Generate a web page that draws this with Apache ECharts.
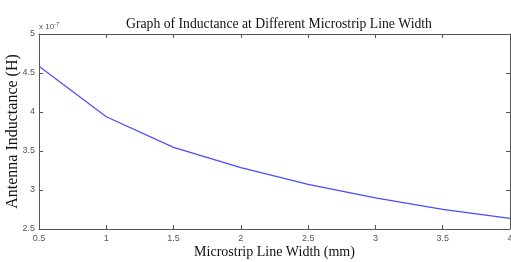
<!DOCTYPE html>
<html><head><meta charset="utf-8">
<script src="https://cdn.jsdelivr.net/npm/echarts@6/dist/echarts.min.js"></script>
<style>html,body{margin:0;padding:0;background:#fff}#c{width:511px;height:262px}</style>
</head><body><div id="c"></div>
<script>
var widths = [0.5, 1, 1.5, 2, 2.5, 3, 3.5, 4];
var inductance = [4.586, 3.94, 3.547, 3.286, 3.073, 2.90, 2.752, 2.637]; // x 1e-7 H
var xTicks = [0.5, 1, 1.5, 2, 2.5, 3, 3.5, 4];
var yTicks = [2.5, 3, 3.5, 4, 4.5, 5];
var data = widths.map(function (w, i) { return [w, inductance[i]]; });
var chart = echarts.init(document.getElementById('c'));
var axisCommon = {
  axisLine: { show: true, lineStyle: { color: '#555', width: 1 } },
  axisTick: { show: true, inside: true, length: 4, lineStyle: { color: '#555' } },
  splitLine: { show: false }
};
var lblFont = { color: '#555', fontSize: 9, fontFamily: 'Liberation Sans, Arial' };
chart.setOption({
  animation: false,
  title: {
    text: 'Graph of Inductance at Different Microstrip Line Width',
    left: 274, top: 12, textAlign: 'center',
    textStyle: { fontFamily: 'Liberation Serif, Times New Roman', fontWeight: 'normal', fontSize: 13.7, color: '#111' }
  },
  graphic: [{
    type: 'text', left: 39, top: 21,
    style: {
      text: '{a|x 10}{b|-7}',
      rich: {
        a: { fontSize: 8, fontFamily: 'Liberation Sans', fill: '#555' },
        b: { fontSize: 6, fontFamily: 'Liberation Sans', fill: '#555', verticalAlign: 'top', padding: [0, 0, 5, 0] }
      }
    }
  }],
  grid: { left: 39, right: 1, top: 34, bottom: 33, containLabel: false, outerBoundsMode: 'none' },
  xAxis: [Object.assign({
    type: 'value', min: 0.5, max: 4, interval: 0.5,
    name: 'Microstrip Line Width (mm)', nameLocation: 'middle', nameGap: 16, nameMoveOverlap: false,
    nameTextStyle: { fontFamily: 'Liberation Serif, Times New Roman', fontSize: 14, color: '#111' },
    axisLabel: Object.assign({ margin: 5, formatter: function (v) { return String(v); } }, lblFont)
  }, axisCommon), Object.assign({
    type: 'value', min: 0.5, max: 4, interval: 0.5, position: 'top',
    axisLabel: { show: false }
  }, axisCommon)],
  yAxis: [Object.assign({
    type: 'value', min: 2.5, max: 5, interval: 0.5,
    name: 'Antenna Inductance (H)', nameLocation: 'middle', nameGap: 18, nameMoveOverlap: false,
    nameTextStyle: { fontFamily: 'Liberation Serif, Times New Roman', fontSize: 16, fontWeight: 'normal', color: '#111' },
    axisLabel: Object.assign({ margin: 4, formatter: function (v) { return String(v); } }, lblFont)
  }, axisCommon), Object.assign({
    type: 'value', min: 2.5, max: 5, interval: 0.5, position: 'right',
    axisLabel: { show: false }
  }, axisCommon)],
  series: [{
    type: 'line', data: data, showSymbol: false, smooth: false,
    lineStyle: { color: '#4b4bff', width: 1.2 }
  }]
});
</script></body></html>
